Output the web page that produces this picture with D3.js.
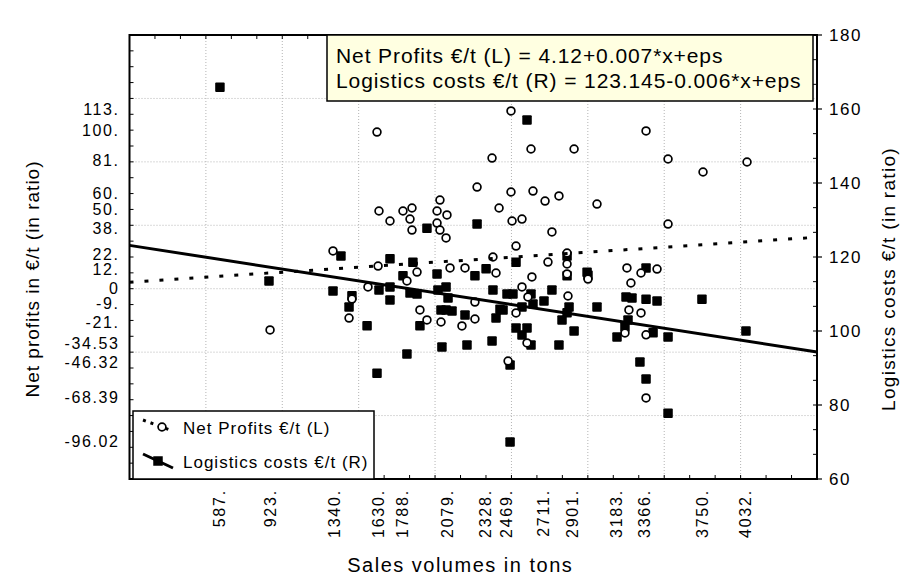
<!DOCTYPE html>
<html><head><meta charset="utf-8">
<script src="https://cdn.jsdelivr.net/npm/d3@7"></script>
<style>
body{margin:0;background:#fff;}
text{font-family:"Liberation Sans",Arial,sans-serif;fill:#000;}
</style></head>
<body>
<svg id="chart" width="906" height="588"></svg>
<script>
// ---- data ----
const netProfitX = [920,1332,1561,1437,1456,1620,1633,1705,1790,1849,1836,1849,2032,2013,2078,2013,2032,2072,1627,1882,1816,2098,2196,1901,1947,2039,2176,2261,2261,2275,2373,2497,2628,2497,2641,2720,2811,2419,2504,2569,2765,2530,2379,2399,2739,2634,2569,2530,2608,2602,2478,2864,2864,2864,3001,2870,2910,3060,3381,3525,3754,4042,3525,3256,3453,3348,3282,3269,3348,3243,3381,3381];
const netProfitY = [-26.0,23.8,1.1,-18.5,-6.5,98.8,49.0,42.7,49.0,50.9,43.9,37.0,55.9,49.0,46.5,41.4,37.0,32.0,14.3,10.5,4.9,13.1,13.1,-13.4,-19.7,-21.0,-23.5,-19.1,-8.4,64.1,82.4,112.1,88.1,61.0,61.6,55.3,58.5,50.9,42.7,43.9,35.8,26.9,20.0,9.9,16.8,7.4,1.1,-15.3,-5.2,-34.2,-45.6,22.5,15.6,9.3,6.1,-4.6,88.1,53.4,99.5,81.8,73.6,79.9,40.8,13.1,12.4,9.9,3.6,-13.4,-15.3,-27.9,-29.1,-68.9];
const logisticsX = [592,913,1384,1332,1456,1437,1555,1620,1633,1705,1705,1705,1855,1790,1836,1882,1816,1901,1947,2013,2019,2072,2039,2072,2111,2085,2045,2196,2209,2275,2261,2334,2379,2373,2399,2425,2445,2471,2510,2530,2530,2569,2602,2628,2569,2641,2628,2713,2765,2811,2831,2864,2877,2910,2864,2864,2995,2602,2491,2491,3060,3191,3250,3289,3381,3453,3263,3243,3427,3525,3341,3381,3525,3747,4035,3381,3001];
const logisticsY = [165.9,113.5,120.3,110.8,109.5,106.5,101.4,88.6,111.1,111.9,108.4,119.5,118.6,114.9,110.3,110.0,93.8,101.4,127.8,115.4,111.1,111.9,105.7,105.7,105.4,108.9,95.7,104.3,96.2,128.9,114.9,116.8,111.1,97.3,103.5,105.9,105.7,110.0,110.0,118.6,100.8,98.9,100.8,96.2,106.5,107.3,110.0,108.1,111.1,96.2,103.0,104.9,106.5,100.0,114.9,120.3,115.9,157.0,90.8,70.0,106.5,98.4,109.2,108.9,108.6,108.1,103.0,101.1,99.5,98.4,91.6,87.0,77.8,108.6,100.0,117.0,115.1];
const fitNetProfit = [4.12, 0.0063];      // intercept, slope (left axis)
const fitLogistics = [123.145, -0.0064];  // intercept, slope (right axis)
const xTickValues = [587,923,1340,1630,1788,2079,2328,2469,2711,2901,3183,3366,3750,4032];
const leftTickValues = [113,100,81,60,50,38,22,12,0,-9,-21,-34.53,-46.32,-68.39,-96.02];
const leftTickLabels = ["113.","100.","81.","60.","50.","38.","22.","12.","0","-9.","-21.","-34.53","-46.32","-68.39","-96.02"];
const rightTickValues = [60,80,100,120,140,160,180];
const equationLines = ["Net Profits €/t (L) = 4.12+0.007*x+eps","Logistics costs €/t (R) = 123.145-0.006*x+eps"];
const legendLabels = ["Net Profits €/t (L)","Logistics costs €/t (R)"];
const titles = {x:"Sales volumes in tons", yL:"Net profits in €/t (in ratio)", yR:"Logistics costs €/t (in ratio)"};

// ---- layout ----
const L=129.5, R=817, T=35, B=479;
const svg = d3.select("#chart");
const x = d3.scaleLinear([0,4500],[L,R]);
const yL = d3.scaleLinear([-120,160],[B,T]);
const yR = d3.scaleLinear([60,180],[B,T]);

// grid
const grid = svg.append("g").attr("stroke","#b4b4b4").attr("stroke-dasharray","1,2").attr("stroke-width",1);
grid.selectAll("line.v").data(d3.range(500,4500,500)).join("line")
  .attr("x1",d=>x(d)).attr("x2",d=>x(d)).attr("y1",T).attr("y2",B);
grid.selectAll("line.h").data(d3.range(-80,160,40)).join("line")
  .attr("y1",d=>yL(d)).attr("y2",d=>yL(d)).attr("x1",L).attr("x2",R);

// minor ticks (inward)
const tk = svg.append("g").attr("stroke","#000").attr("stroke-width",1);
const xm = d3.range(0,4500.1,500/3);
tk.selectAll("line.xb").data(xm).join("line").attr("class","xb")
  .attr("x1",d=>x(d)).attr("x2",d=>x(d)).attr("y1",B).attr("y2",B-4);
tk.selectAll("line.xt").data(xm).join("line").attr("class","xt")
  .attr("x1",d=>x(d)).attr("x2",d=>x(d)).attr("y1",T).attr("y2",T+4);
tk.selectAll("line.yl").data(d3.range(-120,160.1,10)).join("line").attr("class","yl")
  .attr("x1",L).attr("x2",L+4).attr("y1",d=>yL(d)).attr("y2",d=>yL(d));
tk.selectAll("line.yr").data(d3.range(0,19).map(i=>60+i*20/3)).join("line").attr("class","yr")
  .attr("x1",R).attr("x2",R-4).attr("y1",d=>yR(d)).attr("y2",d=>yR(d));

// points: logistics (filled squares)
const sq = 9.5;
svg.append("g").selectAll("rect").data(logisticsX.map((v,i)=>[v,logisticsY[i]])).join("rect")
  .attr("x",d=>x(d[0])-sq/2).attr("y",d=>yR(d[1])-sq/2).attr("width",sq).attr("height",sq)
  .attr("rx",1).attr("fill","#000");
// net profits (open circles)
svg.append("g").selectAll("circle").data(netProfitX.map((v,i)=>[v,netProfitY[i]])).join("circle")
  .attr("cx",d=>x(d[0])).attr("cy",d=>yL(d[1])).attr("r",3.9)
  .attr("fill","#fff").attr("stroke","#000").attr("stroke-width",1.7);

// regression lines
const lineL = d3.line().x(d=>x(d)).y(d=>yL(fitNetProfit[0]+fitNetProfit[1]*d));
const lineR = d3.line().x(d=>x(d)).y(d=>yR(fitLogistics[0]+fitLogistics[1]*d));
svg.append("path").attr("d",lineL([0,4500])).attr("fill","none").attr("stroke","#000")
  .attr("stroke-width",3).attr("stroke-dasharray","4,11");
svg.append("path").attr("d",lineR([0,4500])).attr("fill","none").attr("stroke","#000")
  .attr("stroke-width",3);

// frame
svg.append("rect").attr("x",L).attr("y",T).attr("width",R-L).attr("height",B-T)
  .attr("fill","none").attr("stroke","#000").attr("stroke-width",2);

// axes labels
svg.append("g").selectAll("text").data(leftTickValues).join("text")
  .attr("x",L-10).attr("y",d=>yL(d)).attr("dy","0.36em").attr("text-anchor","end")
  .style("font-size","16px").style("letter-spacing","1.6px")
  .text((d,i)=>leftTickLabels[i]);
svg.append("g").selectAll("line").data(rightTickValues).join("line")
  .attr("x1",R).attr("x2",R+5).attr("y1",d=>yR(d)).attr("y2",d=>yR(d)).attr("stroke","#000").attr("stroke-width",1.2);
svg.append("g").selectAll("text").data(rightTickValues).join("text")
  .attr("x",R+12).attr("y",d=>yR(d)).attr("dy","0.36em").attr("text-anchor","start")
  .style("font-size","17px").style("letter-spacing","1.6px")
  .text(d=>d);
svg.append("g").selectAll("text").data(xTickValues).join("text")
  .attr("transform",d=>`translate(${x(d)},${B+10}) rotate(-90)`).attr("dy","0.36em")
  .attr("text-anchor","end")
  .style("font-size","16px").style("letter-spacing","1.8px")
  .text(d=>d+".");

// titles
svg.append("text").attr("x",(L+R)/2-13).attr("y",572).attr("text-anchor","middle")
  .style("font-size","20px").style("letter-spacing","1.5px").text(titles.x);
svg.append("text").attr("transform",`translate(39,279) rotate(-90)`).attr("text-anchor","middle")
  .style("font-size","19px").style("letter-spacing","1px").text(titles.yL);
svg.append("text").attr("transform",`translate(895,279) rotate(-90)`).attr("text-anchor","middle")
  .style("font-size","19px").style("letter-spacing","1.3px").text(titles.yR);

// equation box
svg.append("rect").attr("x",327).attr("y",T).attr("width",486).attr("height",66)
  .attr("fill","#ffffe1").attr("stroke","#000").attr("stroke-width",1.5);
svg.append("g").selectAll("text").data(equationLines).join("text")
  .attr("x",336).attr("y",(d,i)=>63+i*25)
  .style("font-size","21px").style("letter-spacing","0.9px").text(d=>d);

// legend
const lg = svg.append("g");
lg.append("rect").attr("x",133).attr("y",411).attr("width",241).attr("height",68)
  .attr("fill","#fff").attr("stroke","#000").attr("stroke-width",1.5);
lg.append("line").attr("x1",143).attr("y1",420).attr("x2",170).attr("y2",430)
  .attr("stroke","#000").attr("stroke-width",3).attr("stroke-dasharray","3,5");
lg.append("circle").attr("cx",162).attr("cy",427).attr("r",3.9).attr("fill","#fff").attr("stroke","#000").attr("stroke-width",1.7);
lg.append("line").attr("x1",143).attr("y1",454).attr("x2",173).attr("y2",468)
  .attr("stroke","#000").attr("stroke-width",3);
lg.append("rect").attr("x",158-sq/2).attr("y",461-sq/2).attr("width",sq).attr("height",sq).attr("fill","#000");
lg.selectAll("text").data(legendLabels).join("text")
  .attr("x",183).attr("y",(d,i)=>434+i*34)
  .style("font-size","17px").style("letter-spacing","1px").text(d=>d);
</script>
</body></html>
